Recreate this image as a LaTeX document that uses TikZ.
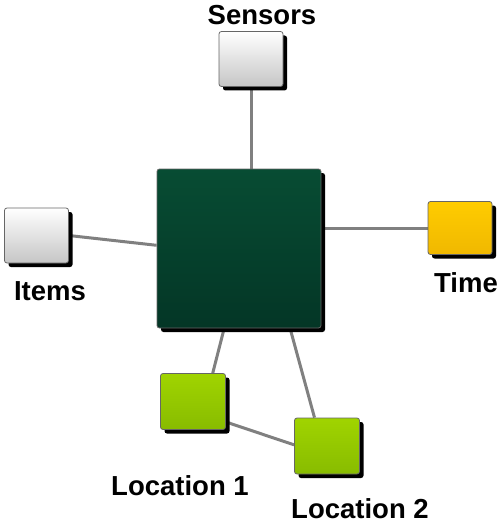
\documentclass[tikz,border=0pt]{standalone}
\usepackage{fontspec}
\setmainfont{Liberation Sans}
\usetikzlibrary{shadows,backgrounds,calc}
\definecolor{darkgreen}{HTML}{074C33}
\definecolor{darkgreenb}{HTML}{043626}
\definecolor{gold}{HTML}{FFCC00}
\definecolor{goldb}{HTML}{F0B800}
\definecolor{lime}{HTML}{A0D400}
\definecolor{limeb}{HTML}{88BC00}
\definecolor{linegray}{HTML}{808080}
\tikzset{
  box/.style={draw=gray!80!black, line width=0.8pt, rounded corners=2.5pt,
    general shadow={fill=black, shadow xshift=4pt, shadow yshift=-4pt, rounded corners=3pt},
    inner sep=0pt},
  whitebox/.style={box, top color=white, bottom color=gray!45, minimum width=64pt, minimum height=55pt},
  goldbox/.style={box, top color=gold, bottom color=goldb, minimum width=64pt, minimum height=53pt},
  limebox/.style={box, top color=lime, bottom color=limeb, minimum width=65pt, minimum height=56pt},
  bigbox/.style={box, top color=darkgreen, bottom color=darkgreenb, minimum width=164pt, minimum height=159pt},
  lbl/.style={font=\fontsize{27.5}{32}\selectfont\bfseries, inner sep=0pt, anchor=base},
  conn/.style={draw=linegray, line width=3pt}
}
\begin{document}
\begin{tikzpicture}[x=1pt,y=-1pt]
\useasboundingbox (0,0) rectangle (497,524);
\node[bigbox] (center) at (239,248.5) {};
\node[whitebox] (sensors) at (251,59) {};
\node[whitebox] (items) at (36.5,235.5) {};
\node[goldbox] (time) at (460,228) {};
\node[limebox] (loc1) at (193,401.5) {};
\node[limebox] (loc2) at (327,446) {};
\node[lbl] (lsensors) at (262,25) {Sensors};
\node[lbl] (litems) at (50,300) {Items};
\node[lbl] (ltime) at (466,292) {Time};
\node[lbl] (lloc1) at (180,495) {Location 1};
\node[lbl] (lloc2) at (360,518.5) {Location 2};
\begin{pgfonlayer}{background}
\draw[conn] (sensors.south) -- (sensors.south |- center.north);
\draw[conn] (items.east) -- ($(center.north west)!0.48!(center.south west)$);
\draw[conn] (time.west) -- (center.east |- time.west);
\draw[conn] ($(center.south west)!0.41!(center.south east)$) -- ($(loc1.north west)!0.8!(loc1.north east)$);
\draw[conn] ($(center.south west)!0.81!(center.south east)$) -- ($(loc2.north west)!0.31!(loc2.north east)$);
\draw[conn] ($(loc1.north east)!0.86!(loc1.south east)$) -- ($(loc2.north west)!0.48!(loc2.south west)$);
\end{pgfonlayer}
\end{tikzpicture}
\end{document}
